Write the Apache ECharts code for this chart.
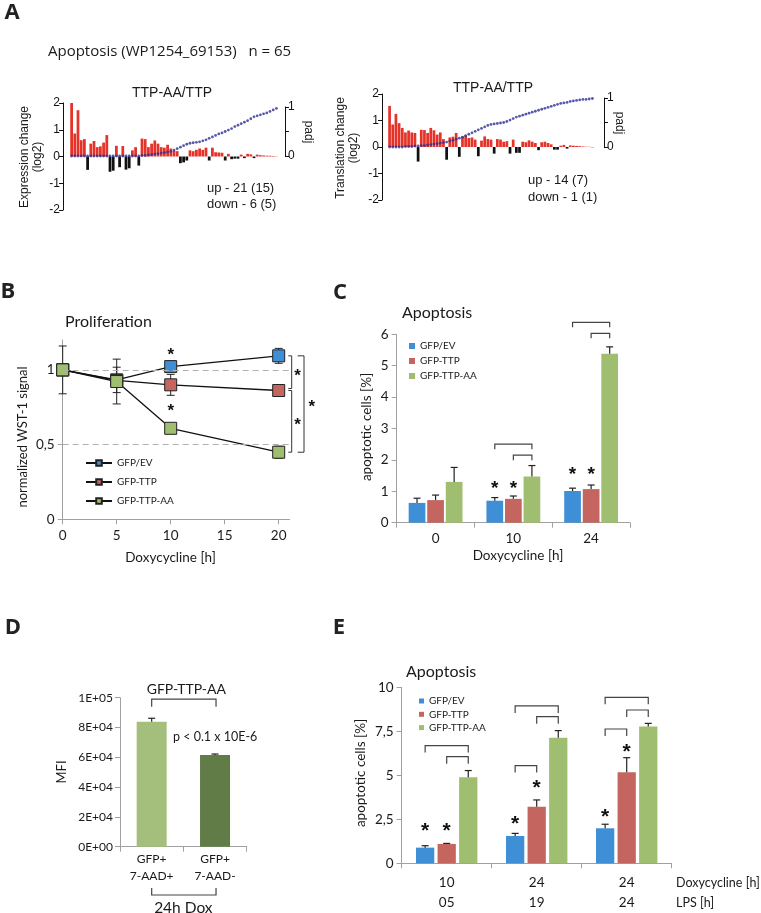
<!DOCTYPE html>
<html><head><meta charset="utf-8">
<script src="https://cdn.jsdelivr.net/npm/echarts@6/dist/echarts.min.js"></script>
<style>html,body{margin:0;padding:0;background:#fff}#c{width:761px;height:913px}</style>
</head><body><div id="c"></div>
<script>
// ---------------- DATA ----------------
// Panel A (65 genes, ranked)
const exprChange = [2.0,0.86,1.73,0.61,0.65,-0.5,0.48,0.58,0.35,0.38,0.52,0.8,-0.57,-0.53,0.4,-0.4,0.39,-0.49,-0.44,0.23,0.35,-0.34,0.67,0.65,0.35,0.48,0.6,0.48,0.35,0.33,0.44,0.3,0.22,
  0.2,-0.25,-0.22,-0.15,0.23,0.2,0.25,0.3,0.25,0.33,-0.15,0.33,0.16,0.15,0.14,-0.15,0.1,-0.1,-0.08,-0.08,0.07,-0.06,0.1,0.08,-0.06,0.07,0.05,0.04,0.03,0.03,0.02,0.01];
const exprPadj = [0,0,0,0,0,0,0,0,0,0, 0,0,0,0,0,0,0,0,0,0, 0,0,0.01,0.01,0.02,0.03,0.04,0.05,0.06,0.07,
  0.08,0.09,0.12,0.15,0.18,0.21,0.24,0.26,0.27,0.28, 0.29,0.31,0.33,0.36,0.39,0.42,0.45,0.47,0.5,0.53,
  0.56,0.6,0.63,0.66,0.69,0.72,0.76,0.8,0.82,0.84, 0.86,0.88,0.91,0.94,0.97];
const transChange = [1.55,0.85,1.25,0.9,0.72,0.55,0.62,0.55,0.53,-0.55,
  0.65,0.64,0.53,0.72,0.63,0.47,0.55,0.3,-0.48,0.36,
  0.39,0.53,-0.37,0.4,0.44,0.34,0.36,0.28,-0.35,0.24,
  0.4,0.3,0.28,-0.25,0.3,0.28,0.2,0.22,-0.25,0.28,
  -0.22,-0.22,0.2,0.18,0.25,0.2,0.15,-0.12,0.18,0.2,
  0.15,0.1,-0.1,-0.1,0.05,0.08,-0.06,0.06,0.05,0.04,
  0.03,0.02,0.01,0.01,-0.01];
const transPadj = [0,0,0,0,0,0.01,0.01,0.01,0.02,0.02, 0.03,0.03,0.04,0.05,0.06,0.07,0.08,0.09,0.1,0.12,
  0.14,0.16,0.18,0.2,0.23,0.26,0.29,0.32,0.35,0.38, 0.41,0.44,0.46,0.47,0.48,0.49,0.5,0.52,0.55,0.58,
  0.61,0.63,0.65,0.67,0.69,0.71,0.73,0.75,0.77,0.79, 0.81,0.83,0.85,0.87,0.89,0.9,0.91,0.93,0.94,0.95,
  0.96,0.97,0.97,0.98,0.99];
const geneRank = exprChange.map((_, i) => String(i + 1));

// Panel B
const prolifX = [0, 5, 10, 20];
const prolifEV = [1, 0.933, 1.022, 1.094];
const prolifTTP = [1, 0.93, 0.90, 0.862];
const prolifAA = [1, 0.922, 0.609, 0.449];
const prolifEVErr = [0, 0.085, 0.02, 0.05];
const prolifTTPErr = [0, 0, 0.07, 0.015];
const prolifAAErr = [0.16, 0.15, 0.02, 0.04];
const prolifRefLines = [1, 0.5];
const prolifStars = [[10, 1.12], [10, 0.745]];
const bXTicks = [0, 5, 10, 15, 20];
const bYTicks = [0, 0.5, 1];

// Panel C
const cCats = ['0', '10', '24'];
const cEV = [0.63, 0.70, 1.01];
const cTTP = [0.72, 0.76, 1.07];
const cAA = [1.30, 1.47, 5.38];
const cEVErr = [0.15, 0.10, 0.09];
const cTTPErr = [0.16, 0.09, 0.13];
const cAAErr = [0.46, 0.35, 0.22];
const cStars = [[1, 0, 1.2], [1, 1, 1.2], [2, 0, 1.65], [2, 1, 1.65]];
const cBrackets = [[1, 0, 2, 2.5], [1, 1, 2, 2.15], [2, 0, 2, 6.38], [2, 1, 2, 6.03]];

// Panel D
const dCats = ['GFP+\n7-AAD+', 'GFP+\n7-AAD-'];
const dVals = [83900, 61500];
const dErr = [2300, 700];
const dBracket = [[0, 1, 99100]];

// Panel E
const eDox = ['10', '24', '24'];
const eLps = ['05', '19', '24'];
const eEV = [0.89, 1.55, 1.99];
const eTTP = [1.10, 3.22, 5.17];
const eAA = [4.89, 7.14, 7.77];
const eEVErr = [0.11, 0.15, 0.23];
const eTTPErr = [0.03, 0.38, 0.83];
const eAAErr = [0.38, 0.40, 0.18];
const eStars = [[0, 0, 2.08], [0, 1, 2.08], [1, 0, 2.46], [1, 1, 4.55], [2, 0, 2.9], [2, 1, 6.59]];
const eBrackets = [[0, 0, 2, 6.69], [0, 1, 2, 6.06], [1, 0, 2, 8.94], [1, 1, 2, 8.33], [1, 0, 1, 5.55], [2, 0, 2, 9.43], [2, 1, 2, 8.71], [2, 0, 1, 7.63]];

// ---------------- STYLE ----------------
const FA = '"Liberation Sans", Arial, sans-serif';
const FC = 'Lato, "Open Sans", sans-serif';
const BLUE = '#3e8fd6', RED = '#c4665f', GREEN = '#9fbe6f';
const DCOL = ['#a3bf7b', '#617c47'];
const AXG = '#a0a0a0', TXT = '#1a1a1a';
const C_BW = 0.215, C_GAP = 0.11, E_BW = 0.203, E_GAP = 0.18;

function gridOf(l, t, w, h) { return { left: l, top: t, width: w, height: h, containLabel: false, outerBoundsMode: 'none' }; }
const hiddenCat = gi => ({ gridIndex: gi, type: 'category', data: geneRank, show: false });
function aY(gi, off) {
  return { gridIndex: gi, type: 'value', min: -2, max: 2, interval: 1, offset: off,
    axisLine: { show: true, lineStyle: { color: '#111', width: 1 } },
    axisTick: { show: true, length: 4, lineStyle: { color: '#111' } },
    axisLabel: { fontFamily: FA, fontSize: 12, color: '#111', margin: 3 }, splitLine: { show: false } };
}
function padjY(gi, off) {
  return { gridIndex: gi, type: 'value', position: 'right', min: 0, max: 1, interval: 0.5, offset: off,
    axisLine: { show: true, lineStyle: { color: '#111', width: 1 } },
    axisTick: { show: true, length: 4, lineStyle: { color: '#111' } },
    axisLabel: { fontFamily: FA, fontSize: 12, color: '#111', margin: 3, formatter: v => (v === 0.5 ? '' : String(v)) },
    splitLine: { show: false } };
}
function grayAxis(extra) {
  return Object.assign({
    axisLine: { show: true, lineStyle: { color: AXG, width: 1 } },
    axisTick: { show: true, length: 5, lineStyle: { color: AXG } },
    splitLine: { show: false }
  }, extra);
}
const lbl = (o) => Object.assign({ fontFamily: FC, color: TXT, fontSize: 13.5 }, o);

// ---------- helpers for series ----------
function signBars(gi, data) {
  return { type: 'bar', xAxisIndex: gi, yAxisIndex: gi, data, barCategoryGap: '14%',
    itemStyle: { color: p => (p.value >= 0 ? '#e5332a' : '#111') }, silent: true };
}
function padjDots(gi, data) {
  return { type: 'scatter', xAxisIndex: gi, yAxisIndex: gi, data, symbol: 'circle', symbolSize: 2.8,
    itemStyle: { color: '#2c2f96' }, silent: true, z: 5 };
}
function lineSeries(name, vals, color) {
  return { name, type: 'line', xAxisIndex: 4, yAxisIndex: 4, data: prolifX.map((x, i) => [x, vals[i]]),
    symbol: 'rect', symbolSize: 12, lineStyle: { color: '#111', width: 1.3 },
    itemStyle: { color, borderColor: '#222', borderWidth: 1 }, z: 4 };
}
function lineErr(vals, errs) {
  return { type: 'custom', xAxisIndex: 4, yAxisIndex: 4, z: 3, silent: true,
    data: prolifX.map((x, i) => [x, vals[i], errs[i]]).filter(d => d[2] > 0), encode: { x: 0, y: 1 },
    renderItem(p, api) {
      const x = api.value(0), y = api.value(1), e = api.value(2);
      const t = api.coord([x, y + e]), b = api.coord([x, y - e]);
      const st = { stroke: '#222', lineWidth: 1 };
      return { type: 'group', children: [
        { type: 'line', shape: { x1: t[0], y1: t[1], x2: b[0], y2: b[1] }, style: st },
        { type: 'line', shape: { x1: t[0] - 4, y1: t[1], x2: t[0] + 4, y2: t[1] }, style: st },
        { type: 'line', shape: { x1: b[0] - 4, y1: b[1], x2: b[0] + 4, y2: b[1] }, style: st }] };
    } };
}
function starText(x, y, fs) {
  return { type: 'text', x, y: y + fs * 0.22, style: { text: '*', fontFamily: FA, fontWeight: 'bold', fontSize: fs, fill: '#111', align: 'center', verticalAlign: 'middle' } };
}
function barSeries(name, gi, data, color, bw, gap) {
  return { name, type: 'bar', xAxisIndex: gi, yAxisIndex: gi, data, barWidth: (bw * 100) + '%', barGap: (gap * 100) + '%',
    itemStyle: { color }, z: 2 };
}
function barErr(gi, vals, errs, s, bw, gap, cap) {
  return { type: 'custom', xAxisIndex: gi, yAxisIndex: gi, z: 5, silent: true,
    data: vals.map((v, i) => [i, v, errs[i], s]), encode: { x: 0, y: 1 },
    renderItem(p, api) {
      const c = api.value(0), v = api.value(1), e = api.value(2), si = api.value(3);
      const band = api.size([1, 0])[0];
      const step = band * bw * (1 + gap);
      const b = api.coord([c, v]), t = api.coord([c, v + e]);
      const x = b[0] + (si - 1) * step;
      const st = { stroke: '#222', lineWidth: 1.2 };
      return { type: 'group', children: [
        { type: 'line', shape: { x1: x, y1: b[1], x2: x, y2: t[1] }, style: st },
        { type: 'line', shape: { x1: x - cap, y1: t[1], x2: x + cap, y2: t[1] }, style: st }] };
    } };
}
function barBrackets(gi, data, bw, gap, leg) {
  return { type: 'custom', xAxisIndex: gi, yAxisIndex: gi, z: 6, silent: true, data, encode: { x: 0, y: 3 },
    renderItem(p, api) {
      const c = api.value(0), a = api.value(1), b = api.value(2), lv = api.value(3);
      const band = api.size([1, 0])[0];
      const step = band * bw * (1 + gap);
      const pt = api.coord([c, lv]);
      const x1 = pt[0] + (a - 1) * step, x2 = pt[0] + (b - 1) * step, y = pt[1];
      return { type: 'polyline', shape: { points: [[x1, y + leg], [x1, y], [x2, y], [x2, y + leg]] },
        style: { stroke: '#444', lineWidth: 1.2, fill: null } };
    } };
}
function barStars(gi, data, bw, gap, fs) {
  return { type: 'custom', xAxisIndex: gi, yAxisIndex: gi, z: 6, silent: true, data, encode: { x: 0, y: 2 },
    renderItem(p, api) {
      const c = api.value(0), s = api.value(1), lv = api.value(2);
      const band = api.size([1, 0])[0];
      const step = band * bw * (1 + gap);
      const pt = api.coord([c, lv]);
      return starText(pt[0] + (s - 1) * step, pt[1], fs);
    } };
}

// ---------------- graphic texts ----------------
const gfx = [];
function txt(text, x, y, o = {}) {
  gfx.push({ type: 'text', x, y, rotation: o.rot || 0, z: 100, silent: true,
    style: { text, fontFamily: o.ff || FC, fontSize: o.fs || 13, fontWeight: o.fw || 'normal', fill: o.fill || TXT,
      align: o.al || 'center', verticalAlign: 'middle', lineHeight: o.lh || undefined } });
}
const R = Math.PI / 2;
[['A', 12, 13], ['B', 8, 292], ['C', 340, 293], ['D', 13, 628], ['E', 339, 628]].forEach(d => txt(d[0], d[1], d[2], { ff: '"Open Sans", sans-serif', fs: 22, fw: 'bold', fill: '#222' }));
txt('Apoptosis (WP1254_69153)   n = 65', 48, 52, { ff: '"Open Sans", sans-serif', fs: 15, al: 'left' });
txt('TTP-AA/TTP', 172, 93, { ff: FA, fs: 14 });
txt('TTP-AA/TTP', 493, 88, { ff: FA, fs: 14 });
txt('Expression change\n(log2)', 31, 157, { ff: FA, fs: 12, rot: R, lh: 13.5 });
txt('Translation change\n(log2)', 347, 148, { ff: FA, fs: 12, rot: R, lh: 13.5 });
txt('padj', 308, 132, { ff: FA, fs: 12, rot: -R });
txt('padj', 619, 123, { ff: FA, fs: 12, rot: -R });
txt('up - 21 (15)', 207, 188, { ff: FA, fs: 13, al: 'left' });
txt('down - 6 (5)', 207, 204, { ff: FA, fs: 13, al: 'left' });
txt('up - 14 (7)', 528, 180, { ff: FA, fs: 13, al: 'left' });
txt('down - 1 (1)', 528, 197, { ff: FA, fs: 13, al: 'left' });
txt('Proliferation', 65, 322, { fs: 16, al: 'left' });
txt('normalized WST-1 signal', 23, 437, { fs: 13, rot: R });
txt('Doxycycline [h]', 170.5, 558, { fs: 13.5 });
txt('Apoptosis', 402, 313, { fs: 16, al: 'left' });
txt('apoptotic cells [%]', 367, 427, { fs: 13.5, rot: R });
txt('Doxycycline [h]', 518, 556, { fs: 13.5 });
txt('MFI', 62, 772, { fs: 13, rot: R });
txt('p < 0.1 x 10E-6', 173, 737, { fs: 12.5, al: 'left' });
txt('Apoptosis', 406, 672, { fs: 16, al: 'left' });
txt('apoptotic cells [%]', 361, 773, { fs: 13.5, rot: R });
txt('Doxycycline [h]', 676, 883, { fs: 12.5, al: 'left' });
txt('LPS [h]', 676, 903, { fs: 12.5, al: 'left' });

// ---------------- OPTION ----------------
const sci = v => { if (v === 0) return '0E+00'; const e = Math.floor(Math.log10(v) + 1e-9); return Math.round(v / Math.pow(10, e)) + 'E+' + String(e).padStart(2, '0'); };
const comma = v => String(v).replace('.', ',');
const legendFmt = n => n.replace(/^[A-Z]:/, '');

const option = {
  animation: false,
  backgroundColor: '#fff',
  tooltip: { show: false },
  grid: [gridOf(70, 103, 208, 107), gridOf(70, 107, 208, 49), gridOf(388, 94, 206, 106), gridOf(388, 98, 206, 49),
    gridOf(62.7, 340, 226.8, 179.3), gridOf(396.7, 334.3, 233.3, 188.4), gridOf(120, 697.7, 126.7, 149), gridOf(401.7, 687.3, 270, 176)],
  xAxis: [
    hiddenCat(0), hiddenCat(1), hiddenCat(2), hiddenCat(3),
    grayAxis({ gridIndex: 4, type: 'value', min: 0, max: 21,
      axisTick: { show: true, length: 5, lineStyle: { color: AXG }, customValues: bXTicks },
      axisLabel: lbl({ fontSize: 13.5, margin: 9, customValues: bXTicks }) }),
    grayAxis({ gridIndex: 5, type: 'category', data: cCats, axisLabel: lbl({ margin: 9, interval: 0 }),
      axisTick: { show: true, length: 5, interval: 0, lineStyle: { color: AXG } } }),
    grayAxis({ gridIndex: 6, type: 'category', data: dCats, axisLabel: lbl({ fontSize: 12, lineHeight: 17, margin: 4, interval: 0 }),
      axisTick: { show: true, length: 5, interval: 0, lineStyle: { color: AXG } } }),
    grayAxis({ gridIndex: 7, type: 'category', data: eDox, axisLabel: lbl({ lineHeight: 20, margin: 9, interval: 0, formatter: (v, i) => eDox[i] + '\n' + eLps[i] }),
      axisTick: { show: true, length: 5, interval: 0, lineStyle: { color: AXG } } })
  ],
  yAxis: [
    aY(0, 7), padjY(1, 7), aY(2, 6), padjY(3, 10),
    grayAxis({ gridIndex: 4, type: 'value', min: 0, max: 1.2,
      axisTick: { show: true, length: 5, lineStyle: { color: AXG }, customValues: bYTicks },
      axisLabel: lbl({ margin: 8, customValues: bYTicks, formatter: comma }) }),
    grayAxis({ gridIndex: 5, type: 'value', min: 0, max: 6, interval: 1, axisLabel: lbl({ margin: 8 }) }),
    grayAxis({ gridIndex: 6, type: 'value', min: 0, max: 100000, interval: 20000, axisLabel: lbl({ fontSize: 12, margin: 7, formatter: sci }) }),
    grayAxis({ gridIndex: 7, type: 'value', min: 0, max: 10, interval: 2.5, axisLabel: lbl({ margin: 8, formatter: comma }) })
  ],
  legend: [
    { orient: 'vertical', left: 80, top: 452, itemWidth: 26, itemHeight: 7, itemGap: 7, formatter: legendFmt, selectedMode: false,
      textStyle: { fontFamily: FC, fontSize: 10, color: TXT, lineHeight: 12 }, data: ['B:GFP/EV', 'B:GFP-TTP', 'B:GFP-TTP-AA'] },
    { orient: 'vertical', left: 404, top: 335, itemWidth: 6, itemHeight: 6, itemGap: 3, icon: 'rect', formatter: legendFmt, selectedMode: false,
      textStyle: { fontFamily: FC, fontSize: 10, color: TXT, lineHeight: 12 }, data: ['C:GFP/EV', 'C:GFP-TTP', 'C:GFP-TTP-AA'] },
    { orient: 'vertical', left: 414, top: 690, itemWidth: 5, itemHeight: 5, itemGap: 1.3, icon: 'rect', formatter: legendFmt, selectedMode: false,
      textStyle: { fontFamily: FC, fontSize: 10, color: TXT, lineHeight: 12 }, data: ['E:GFP/EV', 'E:GFP-TTP', 'E:GFP-TTP-AA'] }
  ],
  series: [
    signBars(0, exprChange), padjDots(1, exprPadj), signBars(2, transChange), padjDots(3, transPadj),
    // B
    Object.assign(lineSeries('B:GFP/EV', prolifEV, BLUE), {
      markLine: { silent: true, symbol: ['none', 'none'], label: { show: false },
        lineStyle: { color: '#b0b0b0', type: [6, 4], width: 1 }, data: prolifRefLines.map(v => ({ yAxis: v })) } }),
    lineSeries('B:GFP-TTP', prolifTTP, RED),
    lineSeries('B:GFP-TTP-AA', prolifAA, GREEN),
    lineErr(prolifEV, prolifEVErr), lineErr(prolifTTP, prolifTTPErr), lineErr(prolifAA, prolifAAErr),
    { type: 'custom', xAxisIndex: 4, yAxisIndex: 4, z: 6, silent: true, data: prolifStars, encode: { x: 0, y: 1 },
      renderItem(p, api) { const pt = api.coord([api.value(0), api.value(1)]); return starText(pt[0], pt[1], 17); } },
    { type: 'custom', xAxisIndex: 4, yAxisIndex: 4, z: 6, silent: true, encode: { x: 0, y: 1 },
      data: [[prolifX[3], prolifEV[3], prolifTTP[3], 0], [prolifX[3], prolifTTP[3], prolifAA[3], 0], [prolifX[3], prolifEV[3], prolifAA[3], 1]],
      renderItem(p, api) {
        const x = api.value(0), col = api.value(3);
        const a = api.coord([x, api.value(1)]), b = api.coord([x, api.value(2)]);
        const vx = a[0] + 13 + col * 12.3, tk = col ? 6.3 : 3.4;
        const y1 = a[1], y2 = b[1] - (p.dataIndex === 0 ? 2 : 0);
        return { type: 'group', children: [
          { type: 'polyline', shape: { points: [[vx - tk, y1], [vx, y1], [vx, y2], [vx - tk, y2]] }, style: { stroke: '#333', lineWidth: 1, fill: null } },
          starText(vx + (col ? 7.7 : 5.8), (y1 + y2) / 2, 17)] };
      } },
    // C
    barSeries('C:GFP/EV', 5, cEV, BLUE, C_BW, C_GAP), barSeries('C:GFP-TTP', 5, cTTP, RED, C_BW, C_GAP), barSeries('C:GFP-TTP-AA', 5, cAA, GREEN, C_BW, C_GAP),
    barErr(5, cEV, cEVErr, 0, C_BW, C_GAP, 3.5), barErr(5, cTTP, cTTPErr, 1, C_BW, C_GAP, 3.5), barErr(5, cAA, cAAErr, 2, C_BW, C_GAP, 3.5),
    barBrackets(5, cBrackets, C_BW, C_GAP, 5), barStars(5, cStars, C_BW, C_GAP, 19),
    // D
    { type: 'bar', xAxisIndex: 6, yAxisIndex: 6, barWidth: 30, data: dVals.map((v, i) => ({ value: v, itemStyle: { color: DCOL[i] } })) },
    barErr(6, dVals, dErr, 1, 0, 0, 3.5),
    { type: 'custom', xAxisIndex: 6, yAxisIndex: 6, z: 6, silent: true, data: dBracket, encode: { x: 0, y: 2 },
      renderItem(p, api) {
        const a = api.coord([api.value(0), api.value(2)]), b = api.coord([api.value(1), api.value(2)]);
        const base = api.coord([api.value(0), 0])[1];
        const yb = base + 48.3, mid = (a[0] + b[0]) / 2;
        const st = { stroke: '#444', lineWidth: 1.2, fill: null };
        return { type: 'group', children: [
          { type: 'polyline', shape: { points: [[a[0], a[1] + 7.7], [a[0], a[1]], [b[0] + 1, a[1]], [b[0] + 1, a[1] + 7.7]] }, style: st },
          { type: 'text', x: mid + 3, y: a[1] - 10, style: { text: 'GFP-TTP-AA', fontFamily: FC, fontSize: 14, fill: TXT, align: 'center', verticalAlign: 'middle' } },
          { type: 'polyline', shape: { points: [[a[0], yb - 7], [a[0], yb], [b[0] + 1, yb], [b[0] + 1, yb - 7]] }, style: st },
          { type: 'text', x: mid, y: yb + 12.5, style: { text: '24h Dox', fontFamily: FC, fontSize: 15.5, fill: TXT, align: 'center', verticalAlign: 'middle' } }] };
      } },
    // E
    barSeries('E:GFP/EV', 7, eEV, BLUE, E_BW, E_GAP), barSeries('E:GFP-TTP', 7, eTTP, RED, E_BW, E_GAP), barSeries('E:GFP-TTP-AA', 7, eAA, GREEN, E_BW, E_GAP),
    barErr(7, eEV, eEVErr, 0, E_BW, E_GAP, 3.5), barErr(7, eTTP, eTTPErr, 1, E_BW, E_GAP, 3.5), barErr(7, eAA, eAAErr, 2, E_BW, E_GAP, 3.5),
    barBrackets(7, eBrackets, E_BW, E_GAP, 7), barStars(7, eStars, E_BW, E_GAP, 21)
  ],
  graphic: { elements: gfx }
};

const chart = echarts.init(document.getElementById('c'), null, { renderer: 'canvas' });
chart.setOption(option);
</script>
</body></html>
